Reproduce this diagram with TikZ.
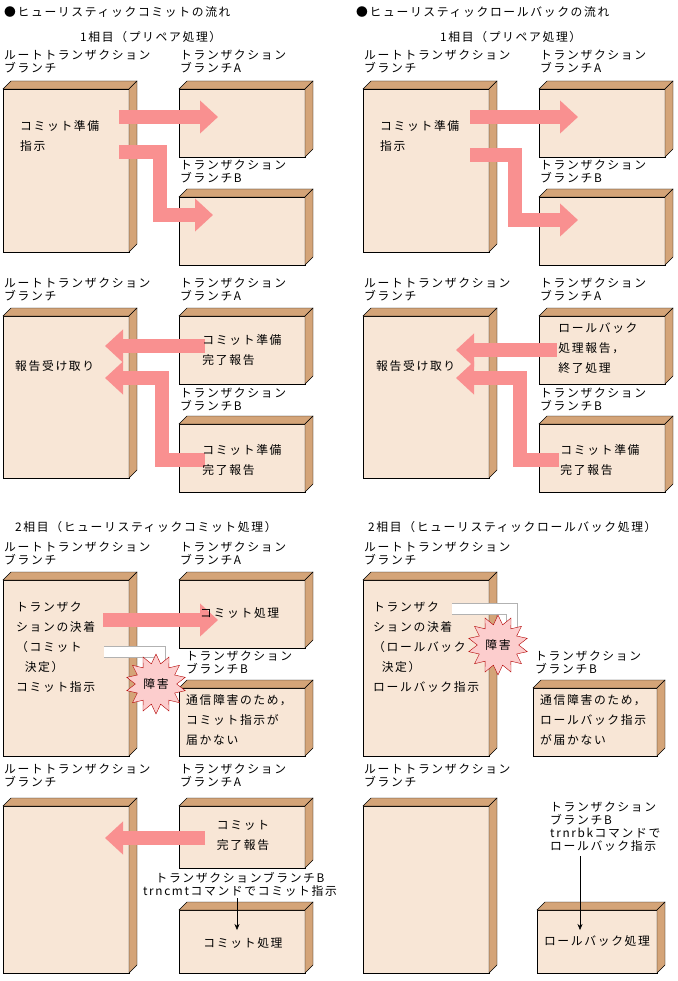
\documentclass[tikz,border=0pt]{standalone}
\usepackage{fontspec}
\setmainfont[LetterSpace=14]{Noto Sans CJK JP}
\usetikzlibrary{arrows.meta,shapes.geometric}
\definecolor{face}{HTML}{F8E6D6}
\definecolor{side}{HTML}{D4A478}
\definecolor{pk}{HTML}{F99090}
\tikzset{
 lbl/.style={anchor=north west,inner sep=0,align=left,font=\fontsize{11.8}{13}\selectfont},
 txt/.style={inner sep=0,align=left,font=\fontsize{11.8}{20}\selectfont},
 pa/.style={draw=pk,line width=14pt,-{Triangle[length=18pt,width=32pt]}},
 burst/.style={star,star points=14,star point ratio=1.45,minimum size=60pt,draw=red!70!black,fill=pk!45,inner sep=0,font=\fontsize{11.8}{13}\selectfont},
 band/.style={draw=gray!60,line width=12pt},
 bandin/.style={draw=white,line width=10pt},
}
\newcommand{\bx}[4]{%
 \fill[face,draw=black] (#1,#2) rectangle (#3,#4);
 \fill[side,draw=black] (#1,#2)--(#1+8,#2-8)--(#3+8,#2-8)--(#3,#2)--cycle;
 \fill[side,draw=black] (#3,#2)--(#3+8,#2-8)--(#3+8,#4-8)--(#3,#4)--cycle;}
\begin{document}
\begin{tikzpicture}[x=1pt,y=-1pt]
\useasboundingbox (0,0) rectangle (677,981);
% ---- left column
\node[lbl,anchor=west] (t1) at (4,12) {●ヒューリスティックコミットの流れ};
\node[lbl,anchor=west] (t2) at (80,37) {1相目（プリペア処理）};
\node[lbl] (l1) at (4,50) {ルートトランザクション\\ブランチ};
\node[lbl] (l2) at (180,50) {トランザクション\\ブランチA};
\node[lbl] (l3) at (180,160) {トランザクション\\ブランチB};
\bx{3}{89}{129}{252}\bx{179}{89}{305}{157}\bx{179}{197}{305}{265}
\coordinate (a1) at (119,117); \coordinate (a2) at (218,117);
\draw[pa] (a1)--(a2);
\coordinate (b1) at (119,152); \coordinate (b2) at (213,215);
\draw[pa] (b1)-|(160,215)--(b2);
\node[txt,anchor=north west] (r1) at (20,120) {コミット準備\\指示};
% panel 2
\node[lbl] (l4) at (4,278) {ルートトランザクション\\ブランチ};
\node[lbl] (l5) at (180,278) {トランザクション\\ブランチA};
\node[lbl] (l6) at (180,388) {トランザクション\\ブランチB};
\bx{3}{316}{129}{478}\bx{179}{316}{305}{384}\bx{179}{424}{305}{492}
\coordinate (c1) at (205,346); \coordinate (c2) at (105,346);
\draw[pa] (c1)--(c2);
\coordinate (d1) at (205,460); \coordinate (d2) at (105,378);
\draw[pa] (d1)-|(162,378)--(d2);
\node[txt,anchor=west] (r2) at (15,366) {報告受け取り};
\node[txt] (a2t) at (242,350) {コミット準備\\完了報告};
\node[txt] (b2t) at (242,460) {コミット準備\\完了報告};
% panel 3
\node[lbl,anchor=west] (t3) at (15,527) {2相目（ヒューリスティックコミット処理）};
\node[lbl] (l7) at (4,542) {ルートトランザクション\\ブランチ};
\node[lbl] (l8) at (180,542) {トランザクション\\ブランチA};
\node[lbl] (l9) at (186,651) {トランザクション\\ブランチB};
\bx{3}{580}{129}{756}\bx{179}{580}{305}{648}\bx{179}{688}{305}{756}
\coordinate (e1) at (103,620); \coordinate (e2) at (218,620);
\draw[pa] (e1)--(e2);
\draw[band] (104,652)-|(160,676);
\draw[bandin] (104,652)-|(160,676);
\node[burst] (bu1) at (156,684) {障害};
\node[txt,anchor=north west] (r3) at (16,602) {トランザク\\ションの決着\\（コミット\\\ \ 決定）\\コミット指示};
\node[txt,anchor=west] (a3t) at (200,613) {コミット処理};
\node[txt,anchor=north west] (b3t) at (186,694) {通信障害のため，\\コミット指示が\\届かない};
% panel 4
\node[lbl] (l10) at (4,764) {ルートトランザクション\\ブランチ};
\node[lbl] (l11) at (180,764) {トランザクション\\ブランチA};
\node[lbl,align=center,anchor=north] (l12) at (240,872) {トランザクションブランチB\\trncmtコマンドでコミット指示};
\bx{3}{806}{129}{973}\bx{179}{806}{305}{868}\bx{179}{910}{305}{973}
\coordinate (f1) at (205,838); \coordinate (f2) at (105,838);
\draw[pa] (f1)--(f2);
\node[txt] (a4t) at (243,835) {コミット\\完了報告};
\node[txt] (b4t) at (243,943) {コミット処理};
\coordinate (g1) at (237,898); \coordinate (g2) at (237,930);
\draw[-{Stealth[length=6pt,width=5pt]}] (g1)--(g2);
% ---- right column
\node[lbl,anchor=west] (u1) at (356,12) {●ヒューリスティックロールバックの流れ};
\node[lbl,anchor=west] (u2) at (440,37) {1相目（プリペア処理）};
\node[lbl] (m1) at (364,50) {ルートトランザクション\\ブランチ};
\node[lbl] (m2) at (540,50) {トランザクション\\ブランチA};
\node[lbl] (m3) at (540,160) {トランザクション\\ブランチB};
\bx{363}{89}{489}{252}\bx{539}{89}{665}{157}\bx{539}{197}{665}{265}
\coordinate (h1) at (470,117); \coordinate (h2) at (578,117);
\draw[pa] (h1)--(h2);
\coordinate (i1) at (470,155); \coordinate (i2) at (578,220);
\draw[pa] (i1)-|(515,220)--(i2);
\node[txt,anchor=north west] (s1) at (380,120) {コミット準備\\指示};
\node[lbl] (m4) at (364,278) {ルートトランザクション\\ブランチ};
\node[lbl] (m5) at (540,278) {トランザクション\\ブランチA};
\node[lbl] (m6) at (540,388) {トランザクション\\ブランチB};
\bx{363}{316}{489}{478}\bx{539}{316}{665}{384}\bx{539}{424}{665}{492}
\coordinate (j1) at (565,350); \coordinate (j2) at (456,350);
\draw[pa] (j1)--(j2);
\coordinate (k1) at (565,460); \coordinate (k2) at (456,378);
\draw[pa] (k1)-|(520,378)--(k2);
\node[txt,anchor=west] (s2) at (376,366) {報告受け取り};
\node[txt,fill=face,inner sep=1pt] (a2r) at (598,348) {ロールバック\\処理報告，\\終了処理};
\node[txt,fill=face,inner sep=1pt] (b2r) at (600,460) {コミット準備\\完了報告};
\node[lbl,anchor=west] (u3) at (368,527) {2相目（ヒューリスティックロールバック処理）};
\node[lbl] (m7) at (364,542) {ルートトランザクション\\ブランチ};
\node[lbl] (m9) at (535,651) {トランザクション\\ブランチB};
\bx{363}{580}{489}{756}\bx{533}{688}{657}{756}
\draw[band] (452,609)-|(512,630);
\draw[bandin] (452,609)-|(512,630);
\node[burst] (bu2) at (498,645) {障害};
\node[txt,anchor=north west] (s3) at (373,602) {トランザク\\ションの決着\\（ロールバック\\\ \ 決定）\\ロールバック指示};
\node[txt,anchor=north west] (b3r) at (540,694) {通信障害のため，\\ロールバック指示\\が届かない};
\node[lbl] (m10) at (364,764) {ルートトランザクション\\ブランチ};
\node[lbl] (m12) at (550,802) {トランザクション\\ブランチB\\trnrbkコマンドで\\ロールバック指示};
\bx{363}{806}{489}{973}\bx{537}{910}{657}{973}
\node[txt] (b4r) at (597,941) {ロールバック処理};
\coordinate (n1) at (580,856); \coordinate (n2) at (580,930);
\draw[-{Stealth[length=6pt,width=5pt]}] (n1)--(n2);
\end{tikzpicture}
\end{document}
